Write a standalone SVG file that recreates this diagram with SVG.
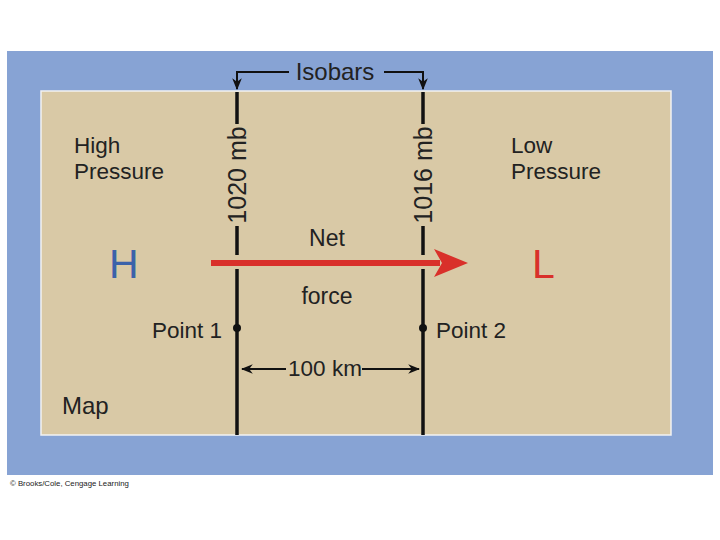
<svg xmlns="http://www.w3.org/2000/svg" width="720" height="540" viewBox="0 0 720 540">
<defs>
<style>
.t{font-family:"Liberation Sans",Arial,sans-serif;fill:#222;font-size:22.5px}
.iso{stroke:#111;stroke-width:3.5;fill:none}
.thin{stroke:#111;stroke-width:2;fill:none}
</style>
<marker id="ah2" viewBox="0 0 10 10" refX="9" refY="5" markerWidth="12" markerHeight="12" markerUnits="userSpaceOnUse" orient="auto"><path d="M0,1 L10,5 L0,9 L3,5 Z" fill="#111"/></marker>
</defs>
<rect width="720" height="540" fill="#fff"/>
<rect x="7" y="51" width="706" height="424" fill="#87a3d4"/>
<rect x="41" y="91" width="630" height="344" fill="#d9c9a6" stroke="#f2f2f2" stroke-width="1.5"/>
<g id="connectors">
<g id="isobar1020">
<line class="iso" x1="237" y1="92" x2="237" y2="124"/>
<line class="iso" x1="237" y1="226" x2="237" y2="255"/>
<line class="iso" x1="237" y1="269" x2="237" y2="435"/>
</g>
<g id="isobar1016">
<line class="iso" x1="423" y1="92" x2="423" y2="124"/>
<line class="iso" x1="423" y1="226" x2="423" y2="255"/>
<line class="iso" x1="423" y1="269" x2="423" y2="435"/>
</g>
<path class="thin" d="M289,72 H237 V89" marker-end="url(#ah2)"/>
<path class="thin" d="M384,72 H423 V89" marker-end="url(#ah2)"/>
<line class="thin" x1="286" y1="369" x2="242" y2="369" marker-end="url(#ah2)"/>
<line class="thin" x1="362" y1="369" x2="419" y2="369" marker-end="url(#ah2)"/>
<g id="netforce">
<line x1="211" y1="263" x2="440" y2="263" stroke="#d9302a" stroke-width="6"/>
<path d="M468,263 L434,249 L442,263 L434,277 Z" fill="#d9302a"/>
</g>
</g>
<g id="labels">
<text class="t" x="335" y="80" text-anchor="middle" style="font-size:24px">Isobars</text>
<text class="t" transform="translate(246,175) rotate(-90)" text-anchor="middle" style="font-size:25px">1020 mb</text>
<text class="t" transform="translate(432,175) rotate(-90)" text-anchor="middle" style="font-size:25px">1016 mb</text>
<text class="t" x="74" y="153">High</text>
<text class="t" x="74" y="179">Pressure</text>
<text class="t" x="511" y="153">Low</text>
<text class="t" x="511" y="179">Pressure</text>
<text x="109" y="278" style="font-family:'Liberation Sans',Arial,sans-serif;font-size:41px;fill:#3b62aa">H</text>
<text x="532" y="278" style="font-family:'Liberation Sans',Arial,sans-serif;font-size:41px;fill:#d9302a">L</text>
<text class="t" x="327" y="246" text-anchor="middle" style="font-size:23px">Net</text>
<text class="t" x="327" y="304" text-anchor="middle" style="font-size:23px">force</text>
<text class="t" x="325" y="376" text-anchor="middle">100 km</text>
<text class="t" x="62" y="414" style="font-size:24px">Map</text>
</g>
<g id="point1">
<circle cx="237" cy="328" r="4" fill="#111"/>
<text class="t" x="222" y="338" text-anchor="end">Point 1</text>
</g>
<g id="point2">
<circle cx="423" cy="328" r="4" fill="#111"/>
<text class="t" x="436" y="338">Point 2</text>
</g>
<text x="10" y="486" style="font-family:'Liberation Sans',Arial,sans-serif;font-size:7.8px;fill:#222">© Brooks/Cole, Cengage Learning</text>
</svg>
